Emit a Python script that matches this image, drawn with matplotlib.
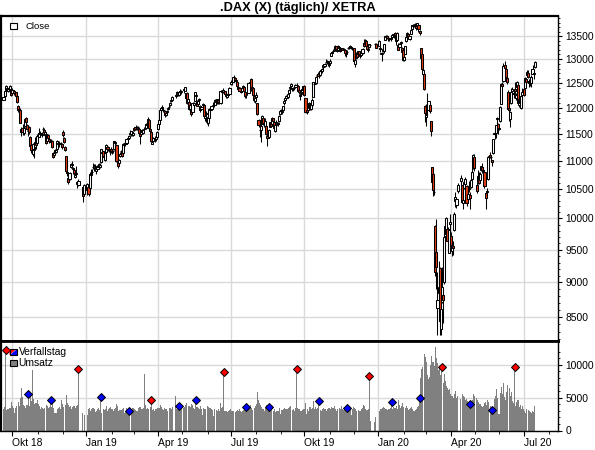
import numpy as np
import pandas as pd
import matplotlib
matplotlib.use("Agg")
import matplotlib.pyplot as plt
from matplotlib.patches import Polygon, Rectangle
from matplotlib.ticker import NullFormatter

plt.rcParams['font.family'] = ['Liberation Sans', 'DejaVu Sans']

titel = ".DAX (X) (täglich)/ XETRA"
start = "2018-09-19"
ende = "2020-07-15"
# Börsenfeiertage XETRA (keine Kerze, Lücke bleibt)
feiertage = ["2018-12-24", "2018-12-25", "2018-12-26", "2018-12-31", "2019-01-01",
             "2019-04-19", "2019-04-22", "2019-05-01", "2019-12-24", "2019-12-25",
             "2019-12-26", "2019-12-31", "2020-01-01", "2020-04-10", "2020-04-13",
             "2020-05-01"]

# Tageskerzen, eine Zeile pro Monat
eroeffnung = [
    12160, 12240, 12360, 12400, 12340, 12390, 12360, 12380,
    12290, 12330, 12280, 12310, 12230, 12040, 11960, 11950, 11580, 11610, 11510, 11640, 11790, 11670, 11540, 11620, 11440, 11280, 11120, 11220, 11240, 11340, 11330,
    11480, 11440, 11510, 11470, 11580, 11560, 11470, 11500, 11360, 11480, 11390, 11360, 11360, 11140, 11110, 11190, 11150, 11220, 11330, 11330, 11310, 11310,
    11530, 11420, 11250, 11080, 10780, 10690, 10680, 10880, 10940, 10850, 10830, 10710, 10770, 10580, 10570, 10530, 10410,
    10480, 10530, 10510, 10760, 10790, 10880, 10860, 10910, 10810, 10850, 10910, 10890, 10980, 11160, 11170, 11080, 11010, 11150, 11240, 11210, 11190, 11220,
    11150, 11170, 11210, 11350, 11280, 10970, 10960, 11090, 11170, 11150, 11130, 11290, 11330, 11330, 11390, 11420, 11500, 11490, 11500, 11480,
    11560, 11630, 11590, 11610, 11590, 11490, 11500, 11560, 11510, 11580, 11610, 11690, 11680, 11760, 11580, 11530, 11310, 11370, 11410, 11400, 11440,
    11580, 11680, 11770, 11960, 12000, 11960, 11930, 11860, 11920, 11980, 12020, 12050, 12140, 12150, 12250, 12250, 12290, 12260, 12320, 12310,
    12380, 12340, 12200, 12300, 12120, 12120, 11980, 11950, 11920, 12050, 12140, 12260, 12130, 12070, 12160, 12030, 11980, 12050, 12060, 11790, 11870, 11800,
    11710, 11800, 11950, 11980, 12050, 12080, 12060, 12130, 12100, 12150, 12110, 12100, 12330, 12320, 12330, 12330, 12250, 12210, 12260, 12270,
    12480, 12510, 12520, 12630, 12600, 12560, 12520, 12420, 12390, 12340, 12330, 12400, 12420, 12320, 12260, 12290, 12300, 12490, 12580, 12370, 12390, 12240, 12130,
    12220, 12090, 11760, 11560, 11560, 11690, 11800, 11680, 11650, 11650, 11450, 11440, 11630, 11700, 11680, 11790, 11730, 11550, 11660, 11680, 11740, 11870,
    11930, 11940, 11960, 12090, 12150, 12190, 12210, 12300, 12390, 12430, 12390, 12370, 12400, 12410, 12450, 12440, 12350, 12260, 12270, 12320, 12360,
    12440, 12190, 11960, 11950, 12000, 12080, 11980, 12060, 12220, 12470, 12490, 12660, 12690, 12650, 12660, 12760, 12740, 12830, 12860, 12930, 12950, 12920, 12900,
    12920, 13070, 13130, 13180, 13200, 13280, 13180, 13200, 13260, 13200, 13220, 13240, 13220, 13200, 13110, 13160, 13230, 13260, 13260, 13260, 13240,
    13240, 12890, 13020, 13140, 13100, 13170, 13080, 13080, 13140, 13360, 13320, 13400, 13290, 13190, 13270, 13310, 13330, 13330,
    13290, 13240, 13120, 13180, 13170, 13420, 13500, 13500, 13460, 13450, 13470, 13490, 13530, 13510, 13570, 13500, 13410, 13310, 13260, 13380, 13250, 13200,
    12990, 13120, 13390, 13500, 13540, 13440, 13550, 13670, 13730, 13760, 13760, 13740, 13740, 13760, 13620, 13230, 13100, 12680, 12690, 12030,
    11820, 12040, 11960, 12050, 11740, 10880, 10760, 10450, 9870, 9460, 8630, 8840, 9210, 8340, 8720, 8810, 9000, 9720, 9740, 9830, 9450, 9910,
    9710, 9480, 9560, 9820, 10300, 10230, 10460, 10630, 10560, 10250, 10520, 10580, 10550, 10330, 10500, 10400, 10530, 10680, 10860, 11070,
    10560, 10620, 10760, 10650, 10830, 10880, 10830, 10800, 10430, 10450, 10680, 11060, 11100, 11070, 11010, 11140, 11500, 11510, 11790, 11680,
    11600, 11750, 12080, 12480, 12540, 12880, 12790, 12600, 12320, 12000, 11780, 12100, 12330, 12300, 12370, 12190, 12420, 12450, 12060, 12150, 12000, 12260,
    12380, 12400, 12580, 12670, 12710, 12550, 12550, 12490, 12690, 12680, 12830,
]
hoch = [
    12250, 12340, 12460, 12420, 12400, 12420, 12450, 12390,
    12390, 12350, 12330, 12320, 12240, 12060, 12010, 11990, 11620, 11680, 11640, 11790, 11820, 11680, 11640, 11650, 11450, 11380, 11330, 11290, 11440, 11360, 11490,
    11520, 11600, 11540, 11530, 11620, 11600, 11560, 11510, 11500, 11500, 11420, 11400, 11380, 11160, 11190, 11220, 11220, 11380, 11360, 11370, 11350, 11330,
    11560, 11440, 11260, 11080, 10950, 10720, 10800, 10960, 10990, 10890, 10860, 10780, 10900, 10630, 10680, 10550, 10580,
    10600, 10550, 10790, 10850, 10840, 10950, 10940, 10940, 10880, 10920, 10960, 10960, 11220, 11190, 11180, 11150, 11150, 11300, 11260, 11240, 11220, 11250,
    11200, 11200, 11370, 11370, 11300, 10990, 11030, 11150, 11200, 11160, 11320, 11330, 11340, 11410, 11450, 11470, 11560, 11550, 11520, 11540,
    11620, 11670, 11640, 11640, 11620, 11510, 11560, 11580, 11590, 11620, 11700, 11720, 11820, 11770, 11640, 11540, 11380, 11440, 11460, 11450, 11540,
    11700, 11770, 11960, 12020, 12050, 12000, 11940, 11930, 11960, 12020, 12060, 12120, 12180, 12230, 12270, 12330, 12320, 12330, 12370, 12360,
    12390, 12420, 12300, 12320, 12200, 12130, 12080, 11990, 12110, 12110, 12320, 12290, 12150, 12180, 12200, 12050, 12040, 12100, 12080, 11850, 11930, 11810,
    11840, 11990, 12000, 12060, 12110, 12100, 12170, 12140, 12180, 12160, 12130, 12350, 12360, 12400, 12360, 12340, 12290, 12270, 12300, 12410,
    12560, 12540, 12630, 12660, 12630, 12580, 12530, 12440, 12420, 12380, 12400, 12450, 12430, 12330, 12300, 12320, 12500, 12560, 12600, 12440, 12400, 12270, 12220,
    12310, 12100, 11780, 11660, 11680, 11860, 11810, 11730, 11800, 11680, 11490, 11580, 11730, 11730, 11820, 11800, 11760, 11670, 11760, 11720, 11850, 11950,
    11970, 11960, 12040, 12160, 12200, 12260, 12290, 12370, 12460, 12490, 12400, 12410, 12420, 12470, 12490, 12450, 12360, 12280, 12320, 12400, 12440,
    12460, 12200, 12000, 12040, 12120, 12100, 12110, 12200, 12520, 12520, 12650, 12690, 12720, 12680, 12760, 12800, 12810, 12890, 12920, 13000, 12990, 12950, 12940,
    13000, 13150, 13180, 13220, 13300, 13290, 13220, 13310, 13280, 13230, 13250, 13250, 13250, 13220, 13160, 13200, 13270, 13280, 13300, 13290, 13270,
    13250, 13000, 13150, 13160, 13180, 13180, 13120, 13160, 13250, 13430, 13430, 13410, 13300, 13240, 13330, 13330, 13360, 13340,
    13410, 13280, 13150, 13260, 13330, 13510, 13530, 13520, 13500, 13470, 13490, 13540, 13560, 13580, 13600, 13520, 13590, 13350, 13350, 13400, 13270, 13240,
    13100, 13290, 13480, 13590, 13560, 13510, 13640, 13760, 13770, 13760, 13800, 13760, 13800, 13770, 13640, 13240, 13160, 12860, 12710, 12060,
    12080, 12290, 12130, 12110, 11750, 10890, 10810, 10620, 9890, 9990, 9160, 9330, 9230, 8840, 9230, 8830, 9740, 9990, 10020, 9860, 9830, 10080,
    9780, 9600, 9640, 10100, 10440, 10350, 10600, 10750, 10570, 10380, 10680, 10700, 10560, 10450, 10630, 10440, 10680, 10880, 11120, 11120,
    10620, 10830, 10790, 10800, 10910, 10950, 10880, 10830, 10460, 10510, 11070, 11090, 11150, 11090, 11010, 11400, 11600, 11670, 11820, 11700,
    11620, 12030, 12500, 12530, 12910, 12950, 12800, 12650, 12350, 12110, 11940, 12400, 12420, 12340, 12530, 12300, 12540, 12480, 12200, 12240, 12240, 12400,
    12420, 12620, 12600, 12780, 12760, 12580, 12600, 12660, 12880, 12720, 12950,
]
tief = [
    12150, 12220, 12340, 12330, 12320, 12360, 12340, 12230,
    12270, 12250, 12260, 12220, 12090, 11920, 11900, 11700, 11450, 11480, 11480, 11620, 11690, 11560, 11460, 11500, 11210, 11130, 11090, 11050, 11220, 11220, 11320,
    11400, 11430, 11430, 11440, 11520, 11510, 11460, 11310, 11330, 11390, 11330, 11300, 11230, 11040, 11070, 11140, 11140, 11210, 11260, 11240, 11260, 11210,
    11440, 11320, 11180, 10780, 10720, 10590, 10660, 10860, 10900, 10760, 10750, 10690, 10700, 10520, 10550, 10280, 10390,
    10390, 10380, 10480, 10700, 10760, 10840, 10820, 10860, 10760, 10830, 10880, 10860, 10960, 11110, 11070, 11040, 10990, 11140, 11180, 11150, 11110, 11140,
    11120, 11140, 11200, 11300, 10980, 10870, 10950, 11070, 11130, 11060, 11120, 11260, 11270, 11310, 11380, 11400, 11480, 11460, 11460, 11460,
    11540, 11570, 11570, 11560, 11500, 11300, 11470, 11500, 11490, 11550, 11590, 11630, 11650, 11580, 11530, 11340, 11300, 11360, 11350, 11370, 11420,
    11570, 11660, 11760, 11930, 11970, 11920, 11820, 11840, 11880, 11950, 11990, 12030, 12120, 12130, 12200, 12230, 12240, 12230, 12290, 12270,
    12290, 12330, 12110, 12070, 12100, 11950, 11920, 11830, 11910, 12010, 12130, 12200, 12030, 12060, 12120, 11920, 11960, 12030, 11830, 11740, 11840, 11690,
    11650, 11790, 11930, 11970, 12020, 12020, 12050, 12080, 12080, 12080, 12070, 12080, 12290, 12300, 12280, 12250, 12190, 12190, 12240, 12250,
    12450, 12460, 12510, 12610, 12540, 12500, 12420, 12330, 12320, 12290, 12310, 12390, 12330, 12200, 12200, 12250, 12290, 12440, 12340, 12350, 12240, 12120, 12090,
    12140, 11850, 11620, 11430, 11340, 11680, 11660, 11620, 11590, 11480, 11270, 11420, 11620, 11630, 11680, 11700, 11600, 11530, 11620, 11650, 11730, 11850,
    11890, 11880, 11950, 12060, 12130, 12180, 12190, 12290, 12330, 12420, 12330, 12340, 12360, 12400, 12420, 12330, 12280, 12150, 12230, 12300, 12340,
    12240, 11900, 11880, 11920, 11990, 11960, 11960, 12020, 12210, 12440, 12470, 12620, 12640, 12610, 12650, 12730, 12700, 12780, 12840, 12910, 12900, 12850, 12840,
    12900, 13060, 13110, 13130, 13180, 13210, 13150, 13170, 13200, 13150, 13170, 13190, 13190, 13060, 13050, 13120, 13210, 13220, 13240, 13220, 13200,
    12960, 12830, 13010, 13050, 13090, 13090, 13020, 13060, 13100, 13260, 13310, 13280, 13200, 13150, 13240, 13280, 13300, 13240,
    13280, 13160, 12950, 13150, 13130, 13410, 13460, 13430, 13400, 13400, 13400, 13470, 13500, 13450, 13500, 13300, 13390, 13190, 13240, 13300, 13140, 12950,
    12960, 13110, 13380, 13480, 13440, 13420, 13540, 13660, 13700, 13700, 13740, 13650, 13730, 13600, 13520, 13020, 12770, 12660, 12360, 11720,
    11640, 11850, 11940, 11900, 11450, 10550, 10380, 10400, 9090, 8900, 8250, 8590, 8260, 8250, 8700, 8420, 8980, 9560, 9670, 9510, 9440, 9780,
    9480, 9400, 9420, 9800, 10190, 10180, 10430, 10570, 10250, 10160, 10500, 10520, 10200, 10300, 10450, 10160, 10510, 10660, 10850, 10820,
    10420, 10590, 10580, 10620, 10810, 10780, 10750, 10520, 10160, 10340, 10660, 10950, 11040, 10980, 10900, 11120, 11400, 11420, 11640, 11500,
    11570, 11720, 12070, 12390, 12520, 12790, 12580, 12470, 11960, 11750, 11620, 12070, 12330, 12200, 12290, 12160, 12390, 12090, 12020, 12070, 11980, 12240,
    12230, 12390, 12490, 12640, 12600, 12420, 12440, 12420, 12690, 12580, 12810,
]
schluss = [
    12219, 12326, 12431, 12350, 12374, 12385, 12435, 12247,
    12346, 12287, 12287, 12244, 12111, 11947, 11977, 11712, 11539, 11523, 11614, 11777, 11715, 11589, 11554, 11524, 11275, 11191, 11307, 11201, 11336, 11287, 11447,
    11468, 11519, 11495, 11484, 11579, 11527, 11529, 11325, 11472, 11412, 11353, 11341, 11244, 11066, 11138, 11180, 11193, 11354, 11309, 11298, 11298, 11257,
    11465, 11335, 11200, 10811, 10788, 10622, 10780, 10931, 10924, 10866, 10772, 10740, 10766, 10611, 10634, 10382, 10559,
    10580, 10416, 10768, 10747, 10803, 10893, 10921, 10887, 10856, 10891, 10931, 10919, 11205, 11136, 11090, 11071, 11130, 11282, 11210, 11218, 11181, 11173,
    11180, 11176, 11368, 11324, 10999, 10906, 11014, 11126, 11167, 11090, 11299, 11309, 11309, 11401, 11423, 11457, 11505, 11540, 11487, 11516,
    11601, 11592, 11620, 11587, 11518, 11457, 11543, 11525, 11572, 11588, 11686, 11657, 11788, 11603, 11550, 11364, 11346, 11419, 11419, 11428, 11526,
    11681, 11754, 11954, 11988, 12009, 11964, 11851, 11905, 11935, 11999, 12020, 12101, 12153, 12222, 12236, 12314, 12282, 12315, 12328, 12344,
    12346, 12412, 12286, 12093, 12179, 11974, 12059, 11877, 12093, 12100, 12310, 12238, 12041, 12143, 12168, 11952, 12011, 12071, 11837, 11837, 11903, 11727,
    11820, 11971, 11980, 12035, 12045, 12045, 12155, 12116, 12169, 12096, 12086, 12332, 12308, 12355, 12340, 12274, 12228, 12245, 12271, 12399,
    12521, 12528, 12616, 12629, 12568, 12543, 12437, 12373, 12332, 12323, 12387, 12430, 12342, 12227, 12260, 12290, 12490, 12522, 12362, 12419, 12258, 12147, 12189,
    12253, 11872, 11658, 11567, 11650, 11845, 11694, 11680, 11750, 11493, 11412, 11563, 11716, 11651, 11802, 11747, 11612, 11658, 11731, 11701, 11838, 11939,
    11953, 11910, 12025, 12127, 12192, 12226, 12268, 12360, 12410, 12469, 12380, 12389, 12390, 12457, 12468, 12342, 12307, 12234, 12288, 12381, 12428,
    12263, 11925, 11925, 12013, 12097, 11970, 12094, 12164, 12512, 12487, 12630, 12670, 12654, 12634, 12748, 12754, 12798, 12872, 12895, 12941, 12940, 12910, 12867,
    12961, 13136, 13148, 13179, 13289, 13228, 13198, 13283, 13230, 13180, 13242, 13207, 13221, 13137, 13127, 13164, 13247, 13256, 13287, 13245, 13236,
    12965, 12989, 13140, 13055, 13167, 13105, 13071, 13141, 13222, 13283, 13407, 13288, 13222, 13212, 13319, 13300, 13337, 13249,
    13386, 13219, 13127, 13227, 13320, 13495, 13483, 13452, 13456, 13432, 13430, 13526, 13549, 13556, 13516, 13389, 13577, 13205, 13324, 13345, 13158, 12982,
    13046, 13281, 13479, 13575, 13514, 13494, 13628, 13750, 13745, 13745, 13784, 13681, 13789, 13665, 13579, 13035, 12790, 12775, 12367, 11890,
    11858, 12039, 12128, 11944, 11542, 10625, 10475, 10439, 9161, 9232, 8742, 8939, 8442, 8610, 8929, 8742, 9701, 9874, 10000, 9633, 9816, 9936,
    9544, 9571, 9525, 10075, 10356, 10333, 10565, 10696, 10280, 10301, 10626, 10676, 10250, 10416, 10514, 10336, 10659, 10796, 11108, 10862,
    10467, 10730, 10606, 10760, 10904, 10824, 10820, 10542, 10337, 10465, 11058, 11075, 11066, 11065, 10982, 11391, 11504, 11657, 11782, 11587,
    11586, 12021, 12487, 12431, 12848, 12820, 12617, 12530, 11970, 11949, 11911, 12315, 12382, 12281, 12331, 12262, 12523, 12094, 12178, 12089, 12232, 12311,
    12260, 12608, 12528, 12734, 12617, 12495, 12489, 12633, 12800, 12697, 12931,
]
umsatz = [
    3300, 3600, 12200, 3100, 3300, 3400, 3500, 4300,
    3700, 3400, 2700, 3500, 3800, 4300, 3700, 4900, 6500, 5100, 3900, 3700, 3500, 3900, 5600, 3700, 5200, 4500, 9200, 4800, 4000, 4200, 4700,
    4000, 3700, 3300, 3600, 3500, 3200, 3400, 3900, 3800, 3500, 3600, 4700, 3600, 4200, 3400, 2600, 2700, 3300, 3500, 3600, 3300, 4600,
    4000, 3600, 3900, 5400, 4200, 3900, 3600, 3800, 3300, 3600, 3700, 3500, 3800, 3900, 9400, 2600, 2300,
    2300, 3300, 3500, 3000, 3200, 3400, 3200, 2800, 2900, 3300, 3400, 3100, 5100, 2700, 3300, 3100, 3300, 3700, 3000, 3200, 3400, 3600,
    3200, 2900, 3300, 3500, 4100, 3700, 3000, 3100, 3100, 3300, 3500, 2700, 3000, 3400, 3300, 3000, 3200, 3300, 3500, 3400,
    3300, 3100, 2900, 3000, 3400, 3600, 3200, 3300, 3500, 8600, 3900, 3300, 3400, 3200, 3600, 4700, 3100, 3200, 3000, 3300, 3200,
    3400, 3500, 3900, 3600, 3300, 3100, 3400, 3200, 3300, 3000, 3400, 3500, 3300, 3600, 5300, 3200, 3400, 3800, 3100, 3700,
    3500, 3600, 3900, 4200, 3700, 3800, 3600, 4100, 3900, 3500, 3300, 4700, 3600, 3400, 3300, 3700, 3200, 2400, 3500, 3300, 3200, 3800,
    3600, 3400, 3500, 3300, 3100, 2200, 3300, 3100, 3000, 3200, 2900, 4200, 3500, 3600, 8900, 2900, 3000, 2800, 3000, 3100,
    3200, 3000, 2900, 3000, 2800, 2900, 3100, 3000, 3200, 2900, 2800, 3000, 3100, 3200, 3650, 3000, 3300, 3600, 3900, 3500, 3100, 3400, 3700,
    4000, 5900, 4600, 4200, 3900, 3600, 3300, 2900, 3600, 3900, 3800, 3650, 3000, 3100, 3200, 3000, 3300, 2800, 2900, 3000, 3000, 3400,
    2500, 3100, 3300, 3500, 3200, 3300, 3300, 3400, 3600, 3700, 3100, 3200, 3000, 3400, 9300, 3400, 3200, 3300, 3000, 3100, 3200,
    3300, 4200, 2500, 3300, 3000, 3600, 3300, 3500, 4500, 3200, 3600, 3300, 3400, 4500, 3100, 3000, 3300, 3400, 3300, 3200, 3000, 3300, 3500,
    3200, 3600, 3400, 3500, 3800, 3200, 3000, 3300, 3400, 3300, 3800, 3200, 3100, 3500, 3300, 3450, 3100, 3000, 3200, 2300, 3300,
    3600, 3400, 3300, 3000, 3100, 3000, 2900, 3200, 3500, 3900, 3700, 3200, 3100, 3300, 8300, 1500, 1300, 2000,
    2900, 3300, 3200, 3400, 3600, 3500, 3300, 3100, 3200, 3300, 3400, 4400, 3200, 3600, 3500, 3700, 3300, 4600, 3900, 3500, 3800, 4200,
    3600, 3500, 3800, 3400, 3100, 3300, 3400, 3600, 3200, 3000, 3100, 3300, 3600, 3800, 5000, 8000, 9300, 9600, 11700, 11200,
    10400, 8500, 7800, 8200, 10000, 11400, 10500, 9800, 12700, 11000, 10300, 9200, 9800, 8400, 9600, 7200, 8600, 7600, 6800, 6500, 6100, 6300,
    5600, 5300, 5000, 5500, 6000, 4900, 5200, 4800, 5500, 5300, 5100, 4600, 4800, 4500, 4200, 4050, 4300, 4600, 5600, 5200,
    4900, 4600, 4300, 4100, 3800, 3600, 3800, 4200, 4400, 3900, 4700, 4300, 3700, 3500, 3150, 2600, 4800, 5200, 6300, 4900,
    2500, 5700, 6600, 5500, 7200, 5100, 4700, 5800, 6900, 6400, 5300, 5800, 4500, 4200, 9700, 3800, 4300, 4600, 3600, 3900, 3300, 3700,
    3200, 3000, 2600, 3300, 3100, 3000, 2800, 2700, 3000, 2800, 3700,
]

# Verfallstage: rot = grosser Verfall (Quartal), blau = monatlich
verfall_gross = ["2018-09-21", "2018-12-21", "2019-03-22", "2019-06-21", "2019-09-20",
                 "2019-12-20", "2020-03-20", "2020-06-19"]
verfall_klein = ["2018-10-19", "2018-11-16", "2019-01-18", "2019-02-22", "2019-04-26",
                 "2019-05-17", "2019-07-19", "2019-08-16", "2019-10-18", "2019-11-22",
                 "2020-01-17", "2020-02-21", "2020-04-24", "2020-05-22"]

kurs_ticks = [8500, 9000, 9500, 10000, 10500, 11000, 11500, 12000, 12500, 13000, 13500]
umsatz_ticks = [0, 5000, 10000]
monatsnamen = {1: "Jan", 4: "Apr", 7: "Jul", 10: "Okt"}

W, H = 595, 450


def fx(px):
    return px / W


def fy(py):
    return 1 - py / H


tage = pd.bdate_range(start, ende)
tage = tage[~tage.isin(pd.to_datetime(feiertage))]
for name, liste in (("eroeffnung", eroeffnung), ("hoch", hoch), ("tief", tief),
                    ("schluss", schluss), ("umsatz", umsatz)):
    if len(liste) != len(tage):
        raise ValueError(f"{name}: {len(liste)} statt {len(tage)}")

x0 = np.datetime64(start)
x = np.busday_count(x0, tage.values.astype("datetime64[D]"))
o = np.array(eroeffnung)
c = np.array(schluss)
vol = np.array(umsatz)

fig = plt.figure(figsize=(W / 100, H / 100), dpi=100)
ax = fig.add_axes([fx(0.8), fy(340.5), fx(557.7 - 0.8), (340.5 - 16.3) / H])
av = fig.add_axes([fx(0.8), fy(430.5), fx(557.7 - 0.8), 90 / H], sharex=ax)

fig.text(0.5, fy(8.3), titel, ha="center", va="center", fontsize=9.3, fontweight="bold")

# Kerzen
farben = np.where(c >= o, "white", "#dd3c12")
ax.vlines(x, tief, hoch, color="black", lw=0.75, zorder=2)
ax.bar(x, np.abs(c - o), bottom=np.minimum(o, c), width=1.9, color=farben,
       edgecolor="black", linewidth=0.75, zorder=3)
ax.set_yscale("log")
ax.set_ylim(8180, 13950)

# Umsatz
av.bar(x, vol, width=0.95, color="#808080", linewidth=0, antialiased=False, zorder=2)
for liste, farbe in ((verfall_gross, "#ff0000"), (verfall_klein, "#0000ff")):
    idx = tage.get_indexer(pd.to_datetime(liste))
    av.plot(x[idx], vol[idx], "D", color=farbe, mec="black", mew=0.7, ms=4.1,
            clip_on=False, zorder=4)
av.set_ylim(0, 13700)

# x-Achse: Monatsanfaenge
monate = pd.date_range("2018-10-01", "2020-08-01", freq="MS")
haupt, haupt_lab, neben = [], [], []
for m in monate:
    d = np.busday_offset(np.datetime64(m.date()), 0, roll="forward")
    pos = np.busday_count(x0, d)
    if m.month in monatsnamen:
        haupt.append(pos)
        haupt_lab.append(f"{monatsnamen[m.month]} {m.strftime('%y')}")
    else:
        neben.append(pos)
av.set_xticks(haupt, haupt_lab)
av.set_xticks(neben, minor=True)
for lab in av.get_xticklabels():
    lab.set_horizontalalignment("left")
ax.set_xlim(-2.45, 495.5)

for a in (ax, av):
    a.yaxis.tick_right()
    a.set_axisbelow(True)
    a.grid(True, which="major", color="#d9d9d9", lw=1.0)
    a.tick_params(which="both", direction="out", labelsize=7.4, colors="black")
    a.tick_params(axis="y", which="major", length=3, pad=2.5)
    a.tick_params(axis="y", which="minor", length=1.6)
    a.spines["left"].set_linewidth(1.6)
    a.spines["right"].set_linewidth(1.0)

ax.set_yticks(kurs_ticks, [str(t) for t in kurs_ticks])
ax.set_yticks([v for v in range(8200, 14000, 100) if v % 500], minor=True)
ax.yaxis.set_minor_formatter(NullFormatter())
ax.tick_params(axis="x", which="both", bottom=False, labelbottom=False)
ax.spines["top"].set_linewidth(1.6)
ax.spines["bottom"].set_linewidth(2.0)

av.set_yticks(umsatz_ticks, [str(t) for t in umsatz_ticks])
av.set_yticks([v for v in range(1000, 13000, 1000) if v % 5000], minor=True)
av.tick_params(axis="x", which="major", length=3.6, pad=2)
av.tick_params(axis="x", which="minor", length=2.4)
av.spines["top"].set_linewidth(2.0)
av.spines["bottom"].set_linewidth(1.0)

# Legenden
fig.add_artist(Rectangle((fx(10), fy(29)), fx(6.7), 5.7 / H, facecolor="white",
                         edgecolor="black", lw=0.8, transform=fig.transFigure))
fig.text(fx(25), fy(26.3), "Close", fontsize=6.8, va="center")
fig.add_artist(Polygon([(fx(9.5), fy(349)), (fx(16.5), fy(349)), (fx(9.5), fy(355))],
                       closed=True, facecolor="#ff0000", lw=0, transform=fig.transFigure))
fig.add_artist(Polygon([(fx(16.5), fy(349)), (fx(16.5), fy(355)), (fx(9.5), fy(355))],
                       closed=True, facecolor="#0000ff", lw=0, transform=fig.transFigure))
fig.add_artist(Rectangle((fx(9.5), fy(355)), fx(7), 6 / H, facecolor="none",
                         edgecolor="black", lw=0.8, transform=fig.transFigure))
fig.text(fx(18.5), fy(352), "Verfallstag", fontsize=7.4, va="center")
fig.add_artist(Rectangle((fx(9.5), fy(365.5)), fx(7), 5.5 / H, facecolor="#808080",
                         edgecolor="black", lw=0.8, transform=fig.transFigure))
fig.text(fx(18.5), fy(363), "Umsatz", fontsize=7.4, va="center")

fig.savefig("out.png", dpi=100)
